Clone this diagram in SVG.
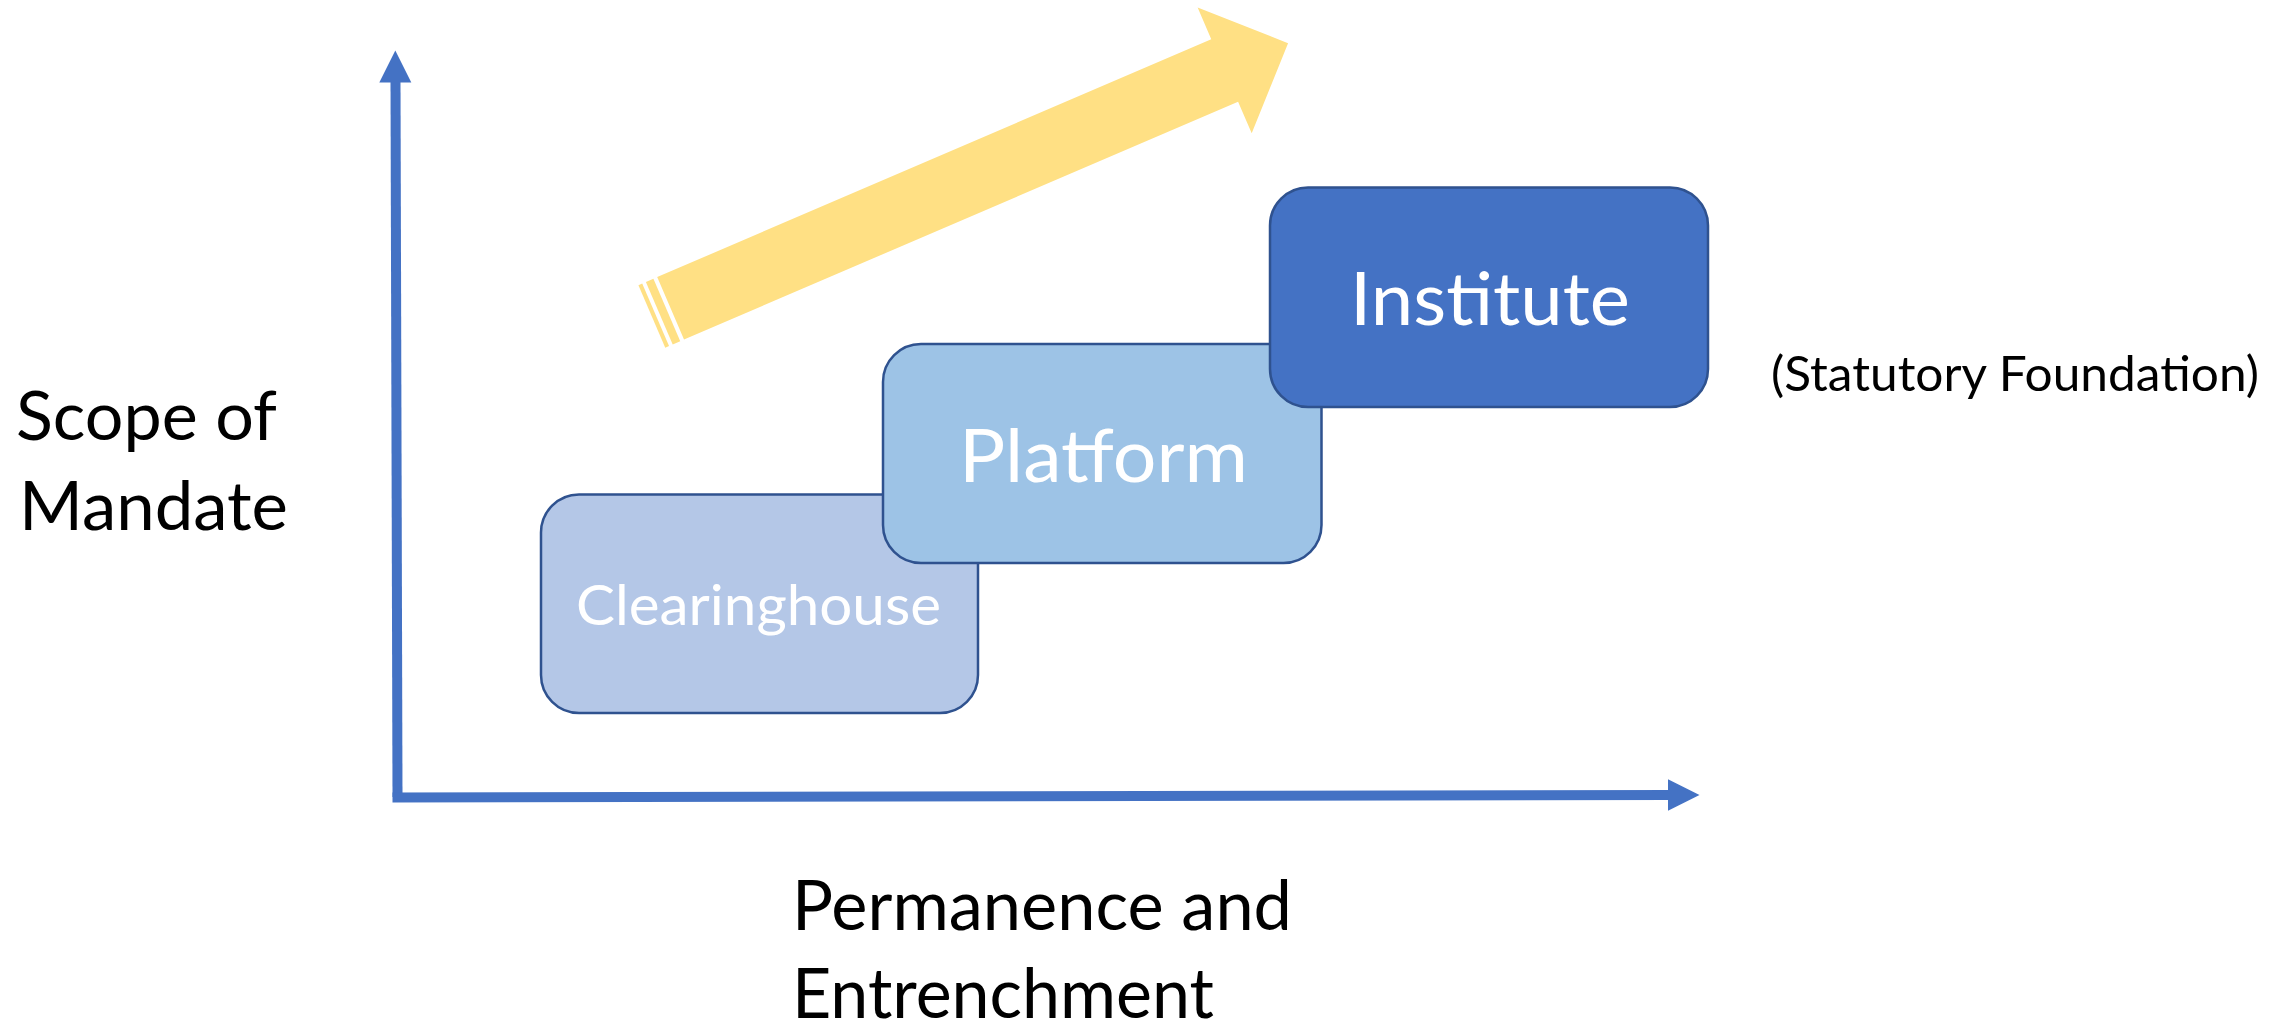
<svg xmlns="http://www.w3.org/2000/svg" width="2295" height="1025" viewBox="0 0 2295 1025">
  <style>
    .axis { stroke: #4472C4; stroke-width: 10; fill: none; }
    .axis-head { fill: #4472C4; }
    .box { stroke: #2F528F; stroke-width: 2.5; }
    .box-label { font-family: Lato, "Open Sans", "Liberation Sans", sans-serif; fill: #FFFFFF; }
    .label { font-family: Lato, "Open Sans", "Liberation Sans", sans-serif; fill: #000000; }
    .trend { fill: #FFE084; }
  </style>

  <!-- axes -->
  <g id="connectors">
    <line class="axis" x1="395.5" y1="80" x2="397.5" y2="797"/>
    <polygon class="axis-head" points="395.3,50.5 411.3,82.5 379.3,82.5"/>
    <line class="axis" x1="392.5" y1="797.5" x2="1670" y2="795"/>
    <polygon class="axis-head" points="1699.5,795 1668,779.3 1668,810.7"/>
  </g>

  <!-- striped trend arrow -->
  <g id="trend-arrow" transform="translate(670.6,308.35) rotate(-23.24)">
    <polygon class="trend" points="0,-34 603,-34 603,-68.5 672,0 603,68.5 603,34 0,34"/>
    <rect class="trend" x="-12.3" y="-34" width="8.2" height="68"/>
    <rect class="trend" x="-20.4" y="-34" width="4.1" height="68"/>
  </g>

  <!-- stages -->
  <g id="clearinghouse">
    <rect class="box" x="541" y="494.5" width="437" height="218.5" rx="38" ry="38" fill="#B4C7E7"/>
    <text class="box-label" x="576" y="625" font-size="56" textLength="365" lengthAdjust="spacingAndGlyphs">Clearinghouse</text>
  </g>

  <g id="platform">
    <rect class="box" x="883" y="344" width="438.5" height="219" rx="38" ry="38" fill="#9DC3E6"/>
    <text class="box-label" x="959" y="482" font-size="74" textLength="289" lengthAdjust="spacingAndGlyphs">Platform</text>
  </g>

  <g id="institute">
    <rect class="box" x="1270" y="187.5" width="438" height="219.5" rx="38" ry="38" fill="#4472C4"/>
    <text class="box-label" x="1350" y="325" font-size="73" textLength="280" lengthAdjust="spacingAndGlyphs">Institute</text>
  </g>

  <g id="institute-note">
    <text class="label" x="1771" y="391" font-size="49" textLength="488" lengthAdjust="spacingAndGlyphs">(Statutory Foundation)</text>
  </g>

  <!-- axis titles -->
  <g id="y-axis-title">
    <text class="label" x="16" y="440" font-size="68" textLength="261" lengthAdjust="spacingAndGlyphs">Scope of</text>
    <text class="label" x="19" y="530" font-size="68" textLength="269" lengthAdjust="spacingAndGlyphs">Mandate</text>
  </g>

  <g id="x-axis-title">
    <text class="label" x="792" y="930" font-size="70" textLength="500" lengthAdjust="spacingAndGlyphs">Permanence and</text>
    <text class="label" x="792" y="1018" font-size="70" textLength="422" lengthAdjust="spacingAndGlyphs">Entrenchment</text>
  </g>
</svg>
